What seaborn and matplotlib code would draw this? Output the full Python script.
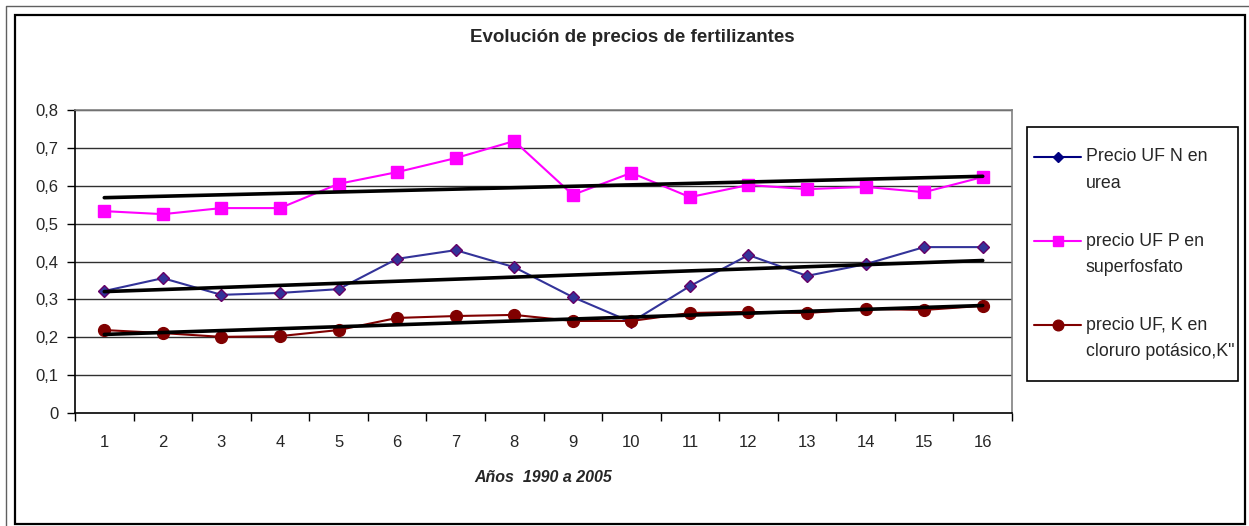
import numpy as np
import pandas as pd
import matplotlib.pyplot as plt
import seaborn as sns
from matplotlib.lines import Line2D
from matplotlib.patches import Rectangle

# data (index 1..16 = years 1990..2005)
years = list(range(1, 17))
urea = [0.322, 0.356, 0.312, 0.317, 0.327, 0.407, 0.430, 0.385,
        0.306, 0.240, 0.335, 0.417, 0.362, 0.393, 0.438, 0.438]
superfosfato = [0.533, 0.525, 0.541, 0.541, 0.605, 0.636, 0.673, 0.718,
                0.576, 0.634, 0.570, 0.602, 0.591, 0.597, 0.583, 0.623]
cloruro = [0.219, 0.211, 0.201, 0.203, 0.219, 0.251, 0.256, 0.259,
           0.243, 0.243, 0.264, 0.267, 0.264, 0.275, 0.272, 0.283]
series_names = ['Precio UF N en\nurea',
                'precio UF P en\nsuperfosfato',
                'precio UF, K en\ncloruro potásico,K"']
y_ticks = [0, 0.1, 0.2, 0.3, 0.4, 0.5, 0.6, 0.7, 0.8]
y_labels = ['0', '0,1', '0,2', '0,3', '0,4', '0,5', '0,6', '0,7', '0,8']

df = pd.DataFrame({'x': years, 'urea': urea,
                   'superfosfato': superfosfato, 'cloruro': cloruro})

sns.set_style('white')
plt.rcParams['font.family'] = ['Liberation Sans', 'DejaVu Sans']

W, H = 1249, 526
fig = plt.figure(figsize=(W / 100, H / 100), dpi=100)
ax = fig.add_axes([75 / W, 1 - 413 / H, (1012 - 75) / W, (413 - 110) / H])

styles = [
    ('urea', '#333399', 'D', 6.2, '#660066', '#000080'),
    ('superfosfato', '#FF00FF', 's', 8.0, '#FF00FF', '#FF00FF'),
    ('cloruro', '#800000', 'o', 8.5, '#800000', '#800000'),
]
for col, color, mk, ms, edge, _ in styles:
    sns.lineplot(data=df, x='x', y=col, ax=ax, color=color, marker=mk,
                 markersize=ms, markeredgecolor=edge, markerfacecolor=color,
                 markeredgewidth=1, linewidth=1.5, zorder=3)

# linear trend lines
for col, *_ in styles:
    sns.regplot(data=df, x='x', y=col, ax=ax, scatter=False, ci=None,
                truncate=True, color='black', line_kws={'linewidth': 2.6, 'zorder': 4})

ax.set_xlim(0.5, 16.5)
ax.set_ylim(0, 0.8)
ax.set_yticks(y_ticks)
ax.set_yticklabels(y_labels)
ax.set_xticks(np.arange(0.5, 17, 1))
ax.set_xticklabels([])
ax.set_xticks(years, minor=True)
ax.set_xticklabels([str(v) for v in years], minor=True)
ax.tick_params(axis='x', which='major', length=6, width=1, color='black', direction='out', bottom=True)
ax.tick_params(axis='x', which='minor', length=0, pad=16, labelsize=12)
ax.tick_params(axis='y', length=6, width=1, color='black', direction='out', left=True, pad=6, labelsize=12)

for y in y_ticks[1:]:
    ax.axhline(y, color='#303030', linewidth=1, zorder=1)
ax.grid(False)

for s in ['left', 'bottom']:
    ax.spines[s].set_color('black')
    ax.spines[s].set_linewidth(1.2)
for s in ['right', 'top']:
    ax.spines[s].set_color('#808080')
    ax.spines[s].set_linewidth(1.2)

ax.set_ylabel('')
ax.set_xlabel('Años  1990 a 2005', fontsize=11.5, fontstyle='italic', fontweight='bold', labelpad=14)

fig.text(632 / W, 1 - 38 / H, 'Evolución de precios de fertilizantes',
         ha='center', va='center', fontsize=13.5, fontweight='bold')

# legend, drawn by hand so the marker sits on the first text line
fig.patches.append(Rectangle((1027 / W, 1 - 381 / H), (1238 - 1027) / W, (381 - 127) / H,
                             transform=fig.transFigure, fill=False,
                             edgecolor='black', linewidth=1.2))
for i, (name, st) in enumerate(zip(series_names, styles)):
    yc = 157 + 84 * i
    c, mk, ms = st[5], st[2], st[3]
    fig.lines.append(Line2D([1034 / W, 1081 / W], [1 - yc / H, 1 - yc / H],
                            transform=fig.transFigure, color=c, linewidth=1.5,
                            marker=mk, markersize=ms * 0.9, markevery=[],
                            markerfacecolor=c, markeredgecolor=c))
    fig.lines.append(Line2D([1057.5 / W], [1 - yc / H], transform=fig.transFigure,
                            linestyle='none', marker=mk, markersize=ms * 0.9,
                            markerfacecolor=c, markeredgecolor=c))
    for j, line in enumerate(name.split('\n')):
        fig.text(1086 / W, 1 - (yc + 26.5 * j) / H, line, ha='left', va='center',
                 fontsize=12.8)

# chart frames
fig.patches.append(Rectangle((15 / W, 1 - 524 / H), (1245 - 15) / W, (524 - 15) / H,
                             transform=fig.transFigure, fill=False,
                             edgecolor='black', linewidth=1.6))
fig.lines.append(Line2D([6 / W, 6 / W, 1], [0, 1 - 6 / H, 1 - 6 / H],
                        transform=fig.transFigure, color='#606060', linewidth=1))

fig.savefig('out.png', dpi=100, facecolor='white')
